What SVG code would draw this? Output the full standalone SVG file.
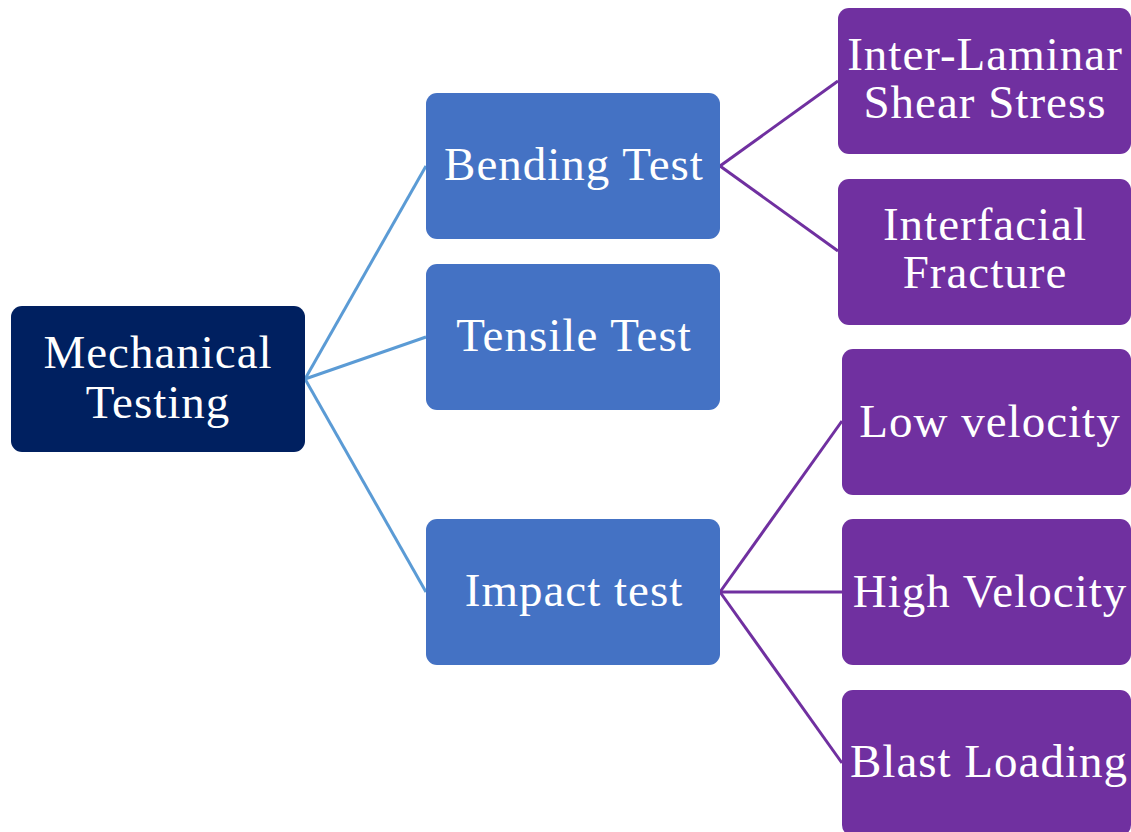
<svg xmlns="http://www.w3.org/2000/svg" width="1131" height="832" viewBox="0 0 1131 832">
<style>
.root{fill:#002060}
.blue{fill:#4472C4}
.purple{fill:#7030A0}
.t{font-family:"Liberation Serif",serif;font-size:47px;letter-spacing:1px;fill:#fff;text-anchor:middle}
.cb{stroke:#5B9BD5;stroke-width:3;fill:none}
.cp{stroke:#7030A0;stroke-width:3;fill:none}
</style>
<rect width="1131" height="832" fill="#fff"/>
<g id="connectors">
<line class="cb" x1="305" y1="379" x2="426" y2="166"/>
<line class="cb" x1="305" y1="379" x2="426" y2="337"/>
<line class="cb" x1="305" y1="379" x2="426" y2="592"/>
<line class="cp" x1="720" y1="166" x2="838" y2="81"/>
<line class="cp" x1="720" y1="166" x2="838" y2="251"/>
<line class="cp" x1="720" y1="592" x2="842" y2="421"/>
<line class="cp" x1="720" y1="592" x2="842" y2="592"/>
<line class="cp" x1="720" y1="592" x2="842" y2="763"/>
</g>
<g id="mechanical">
<rect class="root" x="11" y="306" width="294" height="146" rx="11"/>
<text class="t" x="158" y="368">Mechanical</text>
<text class="t" x="158" y="418">Testing</text>
</g>
<g id="bending">
<rect class="blue" x="426" y="93" width="294" height="146" rx="11"/>
<text class="t" x="574" y="180">Bending Test</text>
</g>
<g id="tensile">
<rect class="blue" x="426" y="264" width="294" height="146" rx="11"/>
<text class="t" x="574" y="351">Tensile Test</text>
</g>
<g id="impact">
<rect class="blue" x="426" y="519" width="294" height="146" rx="11"/>
<text class="t" x="574" y="606">Impact test</text>
</g>
<g id="interlaminar">
<rect class="purple" x="838" y="8" width="293" height="146" rx="11"/>
<text class="t" x="985" y="70">Inter-Laminar</text>
<text class="t" x="985" y="118">Shear Stress</text>
</g>
<g id="interfacial">
<rect class="purple" x="838" y="179" width="293" height="146" rx="11"/>
<text class="t" x="985" y="240">Interfacial</text>
<text class="t" x="985" y="288">Fracture</text>
</g>
<g id="lowvelocity">
<rect class="purple" x="842" y="349" width="289" height="146" rx="11"/>
<text class="t" x="990" y="437">Low velocity</text>
</g>
<g id="highvelocity">
<rect class="purple" x="842" y="519" width="289" height="146" rx="11"/>
<text class="t" x="990" y="607">High Velocity</text>
</g>
<g id="blast">
<rect class="purple" x="842" y="690" width="289" height="146" rx="11"/>
<text class="t" x="989" y="777">Blast Loading</text>
</g>
</svg>
